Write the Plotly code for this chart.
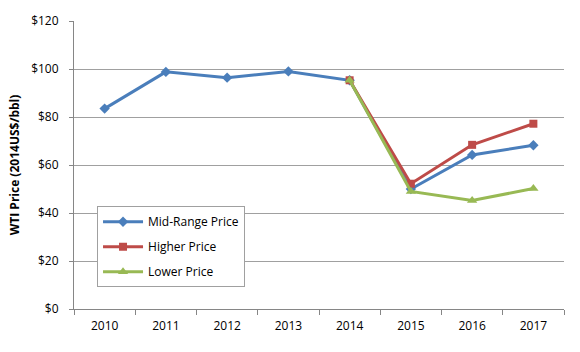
import plotly.graph_objects as go

years = ["2010", "2011", "2012", "2013", "2014", "2015", "2016", "2017"]
mid_price = [83.5, 98.8, 96.4, 99.0, 95.3, 50.0, 64.2, 68.2]
higher_years = ["2014", "2015", "2016", "2017"]
higher_price = [95.3, 52.2, 68.4, 77.2]
lower_years = ["2014", "2015", "2016", "2017"]
lower_price = [95.3, 49.0, 45.2, 50.2]
y_ticks = [0, 20, 40, 60, 80, 100, 120]
y_labels = ["$0", "$20", "$40", "$60", "$80", "$100", "$120"]

fig = go.Figure()
fig.add_trace(go.Scatter(x=years, y=mid_price, name="Mid-Range Price", mode="lines+markers",
                         line=dict(color="#4A7EBB", width=3),
                         marker=dict(symbol="diamond", size=8, color="#4A7EBB"),
                         legendgroup="a"))
fig.add_trace(go.Scatter(x=higher_years, y=higher_price, name="Higher Price", mode="lines+markers",
                         line=dict(color="#BE4B48", width=3),
                         marker=dict(symbol="square", size=8, color="#BE4B48"),
                         legendgroup="b"))
fig.add_trace(go.Scatter(x=lower_years, y=lower_price, name="Lower Price", mode="lines+markers",
                         line=dict(color="#98B954", width=3),
                         marker=dict(symbol="triangle-up", size=9, color="#98B954"),
                         legendgroup="c"))

fig.update_layout(
    width=580, height=352,
    margin=dict(l=74, r=16, t=12, b=43),
    paper_bgcolor="white", plot_bgcolor="white",
    font=dict(family="Open Sans, Liberation Sans, sans-serif", size=11, color="black"),
    showlegend=True,
    legend=dict(x=0.047, y=0.357, xanchor="left", yanchor="top",
                bordercolor="#A0A0A0", borderwidth=1, bgcolor="white",
                font=dict(size=12), tracegroupgap=6, itemwidth=40),
    xaxis=dict(type="category", categoryorder="array", categoryarray=years,
               showline=True, linecolor="#868686", linewidth=1,
               ticks="outside", ticklen=5, tickcolor="#868686", tickson="boundaries",
               showgrid=False, range=[-0.5, 7.5], tickfont=dict(size=12),
               ticklabelstandoff=6),
    yaxis=dict(range=[0, 120], tickvals=y_ticks, ticktext=y_labels,
               showline=True, linecolor="#868686", linewidth=1,
               ticks="outside", ticklen=4, tickcolor="#868686",
               showgrid=True, gridcolor="#A0A0A0", gridwidth=1,
               zeroline=False, tickfont=dict(size=12), ticklabelstandoff=8,
               title=dict(text="<b>WTI Price (2014US$/bbl)</b>", font=dict(size=12), standoff=8)),
)

fig.write_html("out.html")
